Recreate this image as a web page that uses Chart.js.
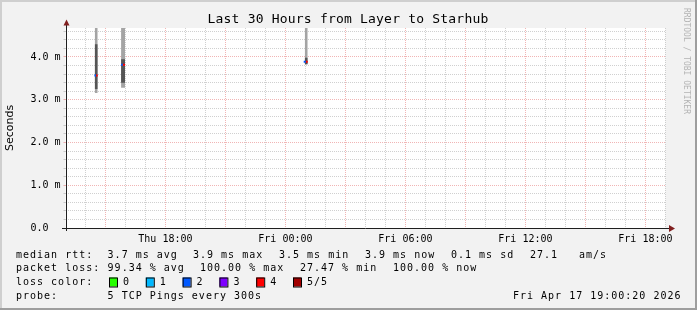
<!DOCTYPE html>
<html>
<head>
<meta charset="utf-8">
<script src="https://cdn.jsdelivr.net/npm/chart.js@4/dist/chart.umd.min.js"></script>
<style>
  html, body { margin: 0; padding: 0; background: #f2f2f2; }
  canvas { display: block; }
</style>
</head>
<body>
<canvas id="chartSmoke" width="697" height="310"></canvas>
<script>
// thời gian tính bằng giờ kể từ Thu 00:00 (Fri = +24)
const rangeStart = 'Thu 13:00', rangeEnd = 'Fri 19:00';

// khói (smoke) theo từng cột
const smokeStart = ['Thu 14:28', 'Thu 15:47', 'Fri 00:58'];
const smokeEnd   = ['Thu 14:37', 'Thu 15:59', 'Fri 01:07'];
const smokeMax   = [4.9, 4.9, 4.9];      // bị cắt ở đỉnh đồ thị
const coreHigh   = [4.30, 3.95, 3.98];
const coreLow    = [3.25, 3.40, 3.83];
const smokeMin   = [3.16, 3.28, 3.83];

// median theo từng bước 5 phút, màu theo số gói mất
const medianStart = ['Thu 14:27', 'Thu 14:32', 'Thu 15:47', 'Thu 15:52', 'Fri 00:55', 'Fri 01:01'];
const medianEnd   = ['Thu 14:32', 'Thu 14:37', 'Thu 15:52', 'Thu 15:59', 'Fri 01:01', 'Fri 01:07'];
const medianVal   = [3.57, 3.57, 3.82, 3.82, 3.89, 3.89];
const medianLoss  = [2, 4, 2, 4, 2, 4];

const lossLabels = ['0', '1', '2', '3', '4', '5/5'];
const lossColors = ['#26ff00', '#00b8ff', '#0059ff', '#7e00ff', '#ff0000', '#a10000'];

const rttStats  = ['3.7 ms avg', '3.9 ms max', '3.5 ms min', '3.9 ms now', '0.1 ms sd', '27.1', 'am/s'];
const lossStats = ['99.34 % avg', '100.00 % max', '27.47 % min', '100.00 % now'];

function hrs(s) {
  const [d, hm] = s.split(' ');
  const [h, m] = hm.split(':').map(Number);
  return (d === 'Fri' ? 24 : 0) + h + m / 60;
}

const xMin = hrs(rangeStart) + 20 / 3600;
const xMax = hrs(rangeEnd) + 20 / 3600;
const yMax = 200 / 42.75;

const GRID = 'rgba(143,143,143,0.42)';
const MGRID = 'rgba(222,79,79,0.42)';
const MONO = '"DejaVu Sans Mono", monospace';

const datasets = [];
smokeStart.forEach((s, i) => {
  const t0 = hrs(s), t1 = hrs(smokeEnd[i]);
  datasets.push({
    data: [{ x: t0, y: smokeMax[i] }, { x: t1, y: smokeMax[i] }],
    fill: { value: smokeMin[i] }, backgroundColor: '#a4a4a4',
    borderWidth: 0, pointRadius: 0, order: 3
  });
  datasets.push({
    data: [{ x: t0, y: coreHigh[i] }, { x: t1, y: coreHigh[i] }],
    fill: { value: coreLow[i] }, backgroundColor: '#555555',
    borderWidth: 0, pointRadius: 0, order: 2
  });
});
medianStart.forEach((s, i) => {
  datasets.push({
    data: [{ x: hrs(s), y: medianVal[i] }, { x: hrs(medianEnd[i]), y: medianVal[i] }],
    borderColor: lossColors[medianLoss[i]], borderWidth: 2, borderCapStyle: 'butt',
    pointRadius: 0, fill: false, order: 1
  });
});

// nền + vùng vẽ trắng
const bgPlugin = {
  id: 'bg',
  beforeDraw(chart) {
    const { ctx, chartArea: a } = chart;
    ctx.save();
    ctx.fillStyle = '#f2f2f2';
    ctx.fillRect(0, 0, chart.width, chart.height);
    ctx.fillStyle = '#ffffff';
    ctx.fillRect(a.left, a.top, a.right - a.left, a.bottom - a.top);
    ctx.restore();
  }
};

// trục, mũi tên, tiêu đề, chú thích
const decoPlugin = {
  id: 'deco',
  afterDraw(chart) {
    const { ctx, chartArea: a } = chart;
    ctx.save();
    // trục
    ctx.strokeStyle = '#1f1f1f';
    ctx.lineWidth = 1;
    ctx.beginPath();
    ctx.moveTo(62, a.bottom + 0.5); ctx.lineTo(669, a.bottom + 0.5);
    ctx.moveTo(a.left + 1, a.bottom + 3); ctx.lineTo(a.left + 1, 25);
    ctx.stroke();
    ctx.fillStyle = '#801f1f';
    ctx.beginPath();
    ctx.moveTo(669, a.bottom - 3); ctx.lineTo(675, a.bottom + 0.5); ctx.lineTo(669, a.bottom + 4);
    ctx.closePath(); ctx.fill();
    ctx.beginPath();
    ctx.moveTo(a.left - 2, 25.5); ctx.lineTo(a.left + 1, 19.5); ctx.lineTo(a.left + 4, 25.5);
    ctx.closePath(); ctx.fill();

    // tiêu đề
    ctx.fillStyle = '#000';
    ctx.textBaseline = 'middle';
    ctx.textAlign = 'center';
    ctx.font = '13px ' + MONO;
    ctx.letterSpacing = '0.2px';
    ctx.fillText('Last 30 Hours from Layer to Starhub', 348, 20);

    // chú thích
    ctx.textAlign = 'left';
    ctx.font = '10px ' + MONO;
    ctx.letterSpacing = '1px';
    const rows = [255, 268.5, 282, 296];
    ctx.fillText('median rtt:', 16, rows[0]);
    [107.6, 193, 279, 365, 451, 530, 579].forEach((x, i) => ctx.fillText(rttStats[i], x, rows[0]));
    ctx.fillText('packet loss:', 16, rows[1]);
    [107.6, 200, 300, 393].forEach((x, i) => ctx.fillText(lossStats[i], x, rows[1]));
    ctx.fillText('loss color:', 16, rows[2]);
    lossLabels.forEach((l, i) => {
      const bx = 109 + i * 36.8;
      ctx.fillStyle = lossColors[i];
      ctx.fillRect(bx, rows[2] - 4.5, 8, 9);
      ctx.strokeStyle = '#000';
      ctx.strokeRect(bx + 0.5, rows[2] - 4, 8, 9);
      ctx.fillStyle = '#000';
      ctx.fillText(l, bx + 14, rows[2]);
    });
    ctx.fillText('probe:', 16, rows[3]);
    ctx.fillText('5 TCP Pings every 300s', 107.6, rows[3]);
    ctx.fillText('Fri Apr 17 19:00:20 2026', 513, rows[3]);

    // watermark dọc
    ctx.save();
    ctx.translate(686, 8);
    ctx.rotate(Math.PI / 2);
    ctx.font = '8px ' + MONO;
    ctx.letterSpacing = '0px';
    ctx.fillStyle = '#b4b4b4';
    ctx.textAlign = 'left';
    ctx.fillText('RRDTOOL / TOBI OETIKER', 0, 0);
    ctx.restore();

    // khung
    ctx.fillStyle = '#cfcfcf';
    ctx.fillRect(0, 0, chart.width, 2);
    ctx.fillRect(0, 0, 2, chart.height);
    ctx.fillStyle = '#9e9e9e';
    ctx.fillRect(0, chart.height - 2, chart.width, 2);
    ctx.fillRect(chart.width - 2, 0, 2, chart.height);
    ctx.restore();
  }
};

const hourTicks = [];
for (let h = Math.ceil(xMin); h <= xMax; h++) hourTicks.push(h);
const yTicks = [];
for (let k = 0; k * 0.2 < yMax; k++) yTicks.push(+(k * 0.2).toFixed(1));

const isMajorY = c => c.tick && Math.abs(c.tick.value - Math.round(c.tick.value)) < 1e-6;

new Chart(document.getElementById('chartSmoke'), {
  type: 'line',
  data: { datasets },
  plugins: [bgPlugin, decoPlugin],
  options: {
    responsive: false,
    animation: false,
    devicePixelRatio: 1,
    events: [],
    layout: { padding: { left: 0, top: 28, right: 31.5, bottom: 62 } },
    plugins: { legend: { display: false }, tooltip: { enabled: false } },
    scales: {
      x: {
        type: 'linear', min: xMin, max: xMax,
        afterFit: s => { s.height = 20; },
        afterBuildTicks: s => { s.ticks = hourTicks.map(v => ({ value: v })); },
        border: { display: false, dash: [1, 1] },
        grid: {
          drawTicks: false,
          color: c => (c.tick && c.tick.value % 3 === 0) ? MGRID : GRID
        },
        ticks: {
          autoSkip: false, maxRotation: 0, minRotation: 0, padding: 5,
          color: '#000', font: { family: 'DejaVu Sans Mono', size: 10 },
          callback: v => {
            if (v % 6 !== 0) return '';
            return (v >= 24 ? 'Fri ' : 'Thu ') + String(v % 24).padStart(2, '0') + ':00';
          }
        }
      },
      y: {
        min: 0, max: yMax,
        afterFit: s => { s.width = 65.5; },
        afterBuildTicks: s => { s.ticks = yTicks.map(v => ({ value: v })); },
        border: { display: false, dash: [1, 1] },
        grid: {
          drawTicks: true, tickLength: 2,
          color: c => isMajorY(c) ? MGRID : GRID,
          tickColor: c => isMajorY(c) ? MGRID : GRID
        },
        title: {
          display: true, text: 'Seconds', color: '#000',
          font: { family: 'DejaVu Sans', size: 11 }, padding: { top: 4, bottom: 0 }
        },
        ticks: {
          autoSkip: false, padding: 3,
          color: '#000', font: { family: 'DejaVu Sans Mono', size: 10 },
          callback: v => {
            if (Math.abs(v - Math.round(v)) > 1e-6) return '';
            return Math.round(v) === 0 ? '0.0  ' : v.toFixed(1) + ' m';
          }
        }
      }
    }
  }
});
</script>
</body>
</html>
